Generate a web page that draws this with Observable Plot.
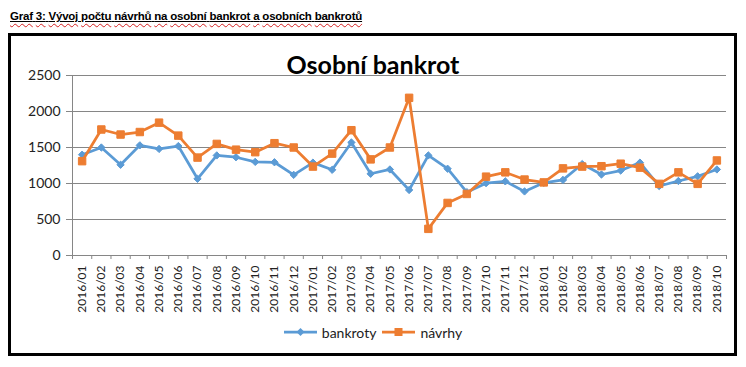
<!DOCTYPE html>
<html><head><meta charset="utf-8">
<script src="https://cdn.jsdelivr.net/npm/d3@7"></script>
<script src="https://cdn.jsdelivr.net/npm/@observablehq/plot@0.6"></script>
<style>
html,body{margin:0;padding:0;background:#fff;overflow:hidden;width:746px;height:367px;}
#hdr{position:absolute;left:10px;top:10px;line-height:12px;font:bold 11.5px "Liberation Sans",Arial,sans-serif;white-space:nowrap;color:#000;text-decoration:underline;text-decoration-color:#000;text-underline-offset:1px;}
#hdr span{text-decoration:underline wavy #d42020;text-decoration-thickness:1px;text-underline-offset:3px;}
#box{position:absolute;left:8px;top:33px;width:729px;height:323px;border:3px solid #000;box-sizing:border-box;}
#title{position:absolute;left:0;width:746px;top:49px;line-height:25px;text-align:center;font:bold 25px Lato,sans-serif;color:#000;}
#chart{position:absolute;left:0;top:0;}
#legend{position:absolute;left:0;top:323px;width:746px;height:18px;display:flex;justify-content:center;align-items:center;font:14px Lato,sans-serif;color:#222;}
#legend .it{display:flex;align-items:center;margin:0 3px;}
#legend svg{margin-right:5px;}
</style></head>
<body>
<div id="hdr"><span>Graf</span> <span>3:</span> <span>Vývoj</span> <span>počtu</span> <span>návrhů</span> <span>na</span> <span>osobní</span> <span>bankrot</span> <span>a</span> <span>osobních</span> <span>bankrotů</span></div>
<div id="box"></div>
<div id="chart"></div>
<div id="title">Osobní bankrot</div>
<div id="legend"></div>
<script>
const months = ["2016/01","2016/02","2016/03","2016/04","2016/05","2016/06","2016/07","2016/08","2016/09","2016/10","2016/11","2016/12",
"2017/01","2017/02","2017/03","2017/04","2017/05","2017/06","2017/07","2017/08","2017/09","2017/10","2017/11","2017/12",
"2018/01","2018/02","2018/03","2018/04","2018/05","2018/06","2018/07","2018/08","2018/09","2018/10"];
const bankroty = [1400,1500,1260,1530,1480,1520,1065,1390,1365,1300,1295,1120,
1290,1190,1570,1135,1195,910,1390,1205,880,1005,1030,890,
1010,1050,1270,1125,1180,1290,965,1035,1100,1195];
const navrhy = [1310,1750,1680,1715,1845,1665,1360,1550,1470,1435,1560,1500,
1235,1415,1740,1335,1500,2190,370,730,855,1095,1155,1055,
1015,1210,1235,1240,1275,1220,995,1155,995,1320];
const seriesNames = ["bankroty","návrhy"];
const colors = ["#5B9BD5","#ED7D31"];
const yTicks = [0,500,1000,1500,2000,2500];

// fit header width
(function(){
  const hdr = document.getElementById("hdr");
  const w = hdr.getBoundingClientRect().width;
  const n = hdr.textContent.length;
  hdr.style.letterSpacing = ((352 - w) / n) + "px";
})();

const idx = months.map((m,i)=>i);
const bounds = d3.range(-0.5, months.length, 1);
const axisGray = "#868686";

const plot = Plot.plot({
  width: 746,
  height: 320,
  marginLeft: 72,
  marginRight: 20,
  marginTop: 75,
  marginBottom: 65,
  style: {fontFamily: "Lato, sans-serif", background: "transparent", overflow: "visible"},
  x: {type: "linear", domain: [-0.5, months.length - 0.5]},
  y: {domain: [0, 2500]},
  marks: [
    Plot.gridY({ticks: yTicks, stroke: axisGray, strokeOpacity: 1, strokeWidth: 1}),
    Plot.ruleX([-0.5], {y1: 0, y2: 2500, stroke: axisGray}),
    Plot.axisY({ticks: yTicks, tickSize: 6, tickPadding: 6, tickFormat: d => String(d), stroke: axisGray, fill: "#222", fontSize: 14, label: null}),
    Plot.axisX({ticks: bounds, tickSize: 4, tickFormat: () => "", stroke: axisGray, label: null}),
    Plot.axisX({ticks: idx, tickSize: 0, tickPadding: 10, tickRotate: -90, tickFormat: i => months[i], fill: "#222", fontSize: 12, label: null}),
    Plot.line(bankroty, {x: (d,i) => i, y: d => d, stroke: colors[0], strokeWidth: 2.75, strokeLinejoin: "round"}),
    Plot.dot(bankroty, {x: (d,i) => i, y: d => d, symbol: "diamond2", r: 3.3, fill: colors[0], stroke: colors[0], strokeWidth: 1}),
    Plot.line(navrhy, {x: (d,i) => i, y: d => d, stroke: colors[1], strokeWidth: 2.75, strokeLinejoin: "round"}),
    Plot.dot(navrhy, {x: (d,i) => i, y: d => d, symbol: "square", r: 4.2, fill: colors[1], stroke: colors[1], strokeWidth: 1}),
    Plot.ruleY([0], {stroke: axisGray})
  ]
});
document.getElementById("chart").appendChild(plot);

// legend
const legend = document.getElementById("legend");
seriesNames.forEach((name, k) => {
  const it = document.createElement("div");
  it.className = "it";
  const marker = k === 0
    ? `<path d="M16.5 13 L20.5 9 L16.5 5 L12.5 9 Z" fill="${colors[0]}"/>`
    : `<rect x="12.5" y="5" width="8" height="8" fill="${colors[1]}"/>`;
  it.innerHTML = `<svg width="33" height="18"><line x1="0" y1="9" x2="33" y2="9" stroke="${colors[k]}" stroke-width="2.75"/>${marker}</svg><span>${name}</span>`;
  legend.appendChild(it);
});
</script>
</body></html>
